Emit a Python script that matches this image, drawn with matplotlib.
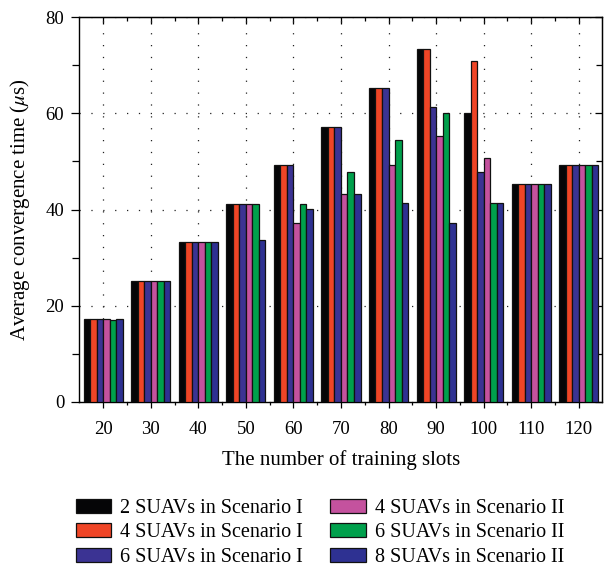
import matplotlib
matplotlib.use("Agg")
import matplotlib.pyplot as plt
import numpy as np
from matplotlib.ticker import MultipleLocator, FixedLocator

plt.rcParams['font.family'] = ['Liberation Serif', 'DejaVu Serif']
plt.rcParams['mathtext.fontset'] = 'stix'

slots = [20, 30, 40, 50, 60, 70, 80, 90, 100, 110, 120]
series_names = ["2 SUAVs in Scenario I", "4 SUAVs in Scenario I", "6 SUAVs in Scenario I",
                "4 SUAVs in Scenario II", "6 SUAVs in Scenario II", "8 SUAVs in Scenario II"]
s2_I = [17.3, 25.2, 33.2, 41.2, 49.3, 57.2, 65.3, 73.3, 60.1, 45.3, 49.3]
s4_I = [17.3, 25.2, 33.2, 41.2, 49.3, 57.2, 65.3, 73.3, 70.9, 45.3, 49.3]
s6_I = [17.3, 25.2, 33.2, 41.2, 49.3, 57.2, 65.3, 61.3, 47.9, 45.3, 49.3]
s4_II = [17.3, 25.2, 33.2, 41.2, 37.3, 43.3, 49.3, 55.3, 50.7, 45.3, 49.3]
s6_II = [17.0, 25.2, 33.2, 41.2, 41.2, 47.9, 54.4, 60.1, 41.3, 45.3, 49.3]
s8_II = [17.3, 25.2, 33.2, 33.7, 40.2, 43.3, 41.3, 37.3, 41.3, 45.3, 49.3]
series = [s2_I, s4_I, s6_I, s4_II, s6_II, s8_II]
colors = ["#050507", "#EF4526", "#3B3393", "#C4529E", "#00A04C", "#2E3192"]

fig = plt.figure(figsize=(6.04, 5.73), dpi=100)
ax = fig.add_axes([0.1315, 0.2985, 0.866, 0.6715])

x = np.arange(len(slots))
w = 0.137
for i, (vals, c, name) in enumerate(zip(series, colors, series_names)):
    ax.bar(x + (i - 2.5) * w, vals, w, color=c, edgecolor="#111111", linewidth=0.9,
           label=name, zorder=3)

ax.set_xlim(-0.5, 10.5)
ax.set_ylim(0, 80)
ax.set_xticks(x)
ax.set_xticklabels([str(s) for s in slots])
minor_x = x[:-1] + 0.5
ax.xaxis.set_minor_locator(FixedLocator(minor_x))
ax.yaxis.set_major_locator(MultipleLocator(20))
ax.yaxis.set_minor_locator(MultipleLocator(10))
ax.tick_params(axis='x', which='major', direction='out', length=4, width=0.9, labelsize=13.5, pad=9.5)
ax.tick_params(axis='x', which='minor', direction='out', length=2.5, width=0.9)
ax.tick_params(axis='y', which='major', direction='out', length=6, width=0.9, labelsize=13.5, pad=5)
ax.tick_params(axis='y', which='minor', direction='out', length=5, width=0.9)

# top and right ticks point inward
axt = ax.secondary_xaxis('top')
axt.set_xticks(x)
axt.xaxis.set_minor_locator(FixedLocator(minor_x))
axt.tick_params(which='major', direction='in', length=5, width=0.9, labeltop=False)
axt.tick_params(which='minor', direction='in', length=3, width=0.9)
axr = ax.secondary_yaxis('right')
axr.yaxis.set_major_locator(MultipleLocator(20))
axr.yaxis.set_minor_locator(MultipleLocator(10))
axr.tick_params(which='major', direction='in', length=5, width=0.9, labelright=False)
axr.tick_params(which='minor', direction='in', length=4, width=0.9)

ax.grid(True, which='major', linestyle=(0, (1, 8.5)), color='#222222', linewidth=0.9, zorder=0)
ax.set_axisbelow(True)
for sp in ax.spines.values():
    sp.set_linewidth(1.0)

ax.set_xlabel("The number of training slots", fontsize=15, labelpad=9)
ax.set_ylabel(r"Average convergence time ($\mu$s)", fontsize=15, labelpad=10)

fig.legend(loc='center', bbox_to_anchor=(0.53, 0.07), ncol=2, frameon=False,
           fontsize=14.5, handlelength=1.75, handleheight=0.7, columnspacing=1.35,
           labelspacing=0.27, handletextpad=0.45, borderpad=0)

fig.savefig("out.png", dpi=100)
